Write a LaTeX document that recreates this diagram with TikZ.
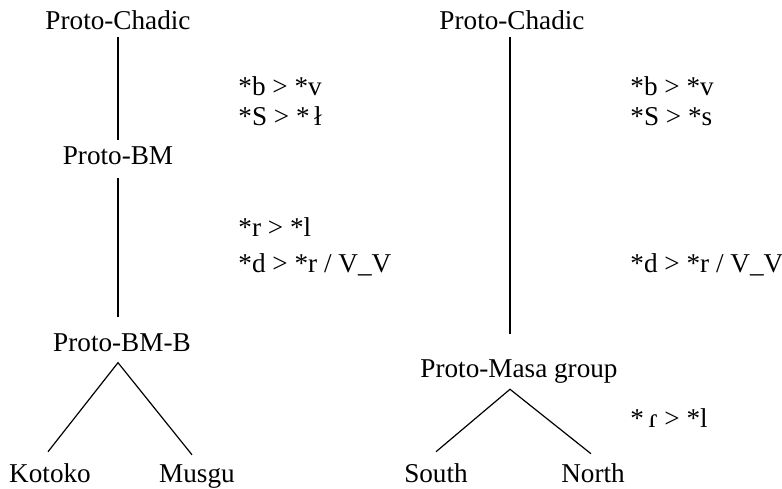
\documentclass[tikz,border=0pt]{standalone}
\usepackage{fontspec}
\setmainfont{Liberation Serif}
\usetikzlibrary{positioning, calc}
\tikzset{
  lang_node/.style={inner sep=0pt, anchor=base, font=\fontsize{13.6}{16}\selectfont},
  rule_text/.style={inner sep=0pt, anchor=base west, font=\fontsize{13.6}{16}\selectfont},
  branch/.style={line width=0.6pt, black}
}

\begin{document}
\begin{tikzpicture}[x=0.5pt, y=-0.5pt]
  \useasboundingbox (0,0) rectangle (782,488);

  % Left tree
  \node[lang_node] (pc_left) at (118,29) {Proto-Chadic};
  \node[lang_node] (bm) at (118,164) {Proto-BM};
  \node[lang_node] (bm_b) at (122,351) {Proto-BM-B};
  \node[lang_node] (kotoko) at (50,482) {Kotoko};
  \node[lang_node] (musgu) at (197,482) {Musgu};

  \draw[branch] ($(pc_left.south)+(0,7)$) -- ($(bm.north)+(0,-6)$);
  \draw[branch] ($(bm.south)+(0,13)$) -- ($(bm.south |- bm_b.north)+(0,-16)$);
  \draw[branch] ($(kotoko.north)+(-2,-11)$) -- ($(bm.south |- bm_b.south)+(0,11)$) -- ($(musgu.north)+(-5,-9)$);

  % Left sound changes
  \node[rule_text] (rule_bv_left) at (238,95) {*b > *v};
  \node[rule_text] (rule_s_left) at (238,125) {*S > *\,ł};
  \node[rule_text] (rule_rl_left) at (238,236) {*r > *l};
  \node[rule_text] (rule_dr_left) at (238,272) {*d > *r / V\_V};

  % Right tree
  \node[lang_node] (pc_right) at (512,29) {Proto-Chadic};
  \node[lang_node] (masa) at (519,377) {Proto-Masa group};
  \node[lang_node] (south) at (436,482) {South};
  \node[lang_node] (north) at (593,482) {North};

  \draw[branch] ($(pc_right.south)+(-2,7)$) -- ($(pc_right.south |- masa.north)+(-2,-25)$);
  \draw[branch] ($(south.north)+(0,-11)$) -- ($(pc_right.south |- masa.south)+(-2,6)$) -- ($(north.north)+(-2,-9)$);

  % Right sound changes
  \node[rule_text] (rule_bv_right) at (630,95) {*b > *v};
  \node[rule_text] (rule_s_right) at (630,125) {*S > *s};
  \node[rule_text] (rule_dr_right) at (630,272) {*d > *r / V\_V};
  \node[rule_text] (rule_flap_right) at (630,427) {*\,ɾ > *l};
\end{tikzpicture}
\end{document}
